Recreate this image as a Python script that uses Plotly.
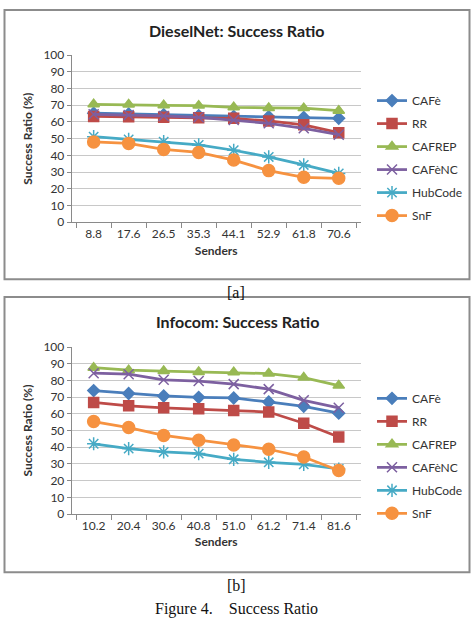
import plotly.graph_objects as go

W, H = 474, 628

series_names = ["CAFè", "RR", "CAFREP", "CAFèNC", "HubCode", "SnF"]
line_colors = ["#4A7EBB", "#BE4B48", "#98B954", "#7D60A0", "#46AAC5", "#F69240"]
symbols = ["diamond", "square", "triangle-up", "x-thin-open", "asterisk-open", "circle"]
msizes = [9, 10, 10, 10, 11, 12]

diesel_senders = ["8.8", "17.6", "26.5", "35.3", "44.1", "52.9", "61.8", "70.6"]
diesel_cafe = [65.3, 64.8, 64.4, 63.8, 63.3, 63.2, 62.7, 62.2]
diesel_rr = [63.3, 63.1, 62.8, 62.6, 62.2, 60.6, 58.3, 53.6]
diesel_cafrep = [70.6, 70.5, 70.0, 69.8, 68.8, 68.4, 68.3, 66.8]
diesel_cafenc = [64.6, 64.2, 63.6, 62.8, 61.2, 59.2, 56.2, 52.4]
diesel_hubcode = [51.2, 49.6, 48.2, 46.3, 43.1, 39.1, 34.3, 29.2]
diesel_snf = [48.1, 47.2, 43.6, 41.8, 37.2, 30.9, 26.9, 26.3]

info_senders = ["10.2", "20.4", "30.6", "40.8", "51.0", "61.2", "71.4", "81.6"]
info_cafe = [73.9, 72.2, 70.7, 69.9, 69.5, 67.1, 64.5, 60.4]
info_rr = [66.8, 64.8, 63.6, 63.0, 62.0, 61.1, 54.4, 46.2]
info_cafrep = [87.6, 86.1, 85.6, 85.1, 84.9, 84.1, 81.7, 76.9]
info_cafenc = [84.3, 83.7, 80.4, 79.6, 77.8, 74.8, 68.1, 63.6]
info_hubcode = [42.1, 39.2, 37.2, 36.2, 32.8, 31.0, 29.8, 27.0]
info_snf = [55.4, 51.8, 47.1, 44.2, 41.3, 38.8, 34.2, 26.1]

diesel = [diesel_cafe, diesel_rr, diesel_cafrep, diesel_cafenc, diesel_hubcode, diesel_snf]
info = [info_cafe, info_rr, info_cafrep, info_cafenc, info_hubcode, info_snf]

FONT = "Lato"
SERIF = "Liberation Serif"

def px_x(p):
    return p / W

def px_y(p):
    return 1 - p / H

fig = go.Figure()

for i, name in enumerate(series_names):
    fig.add_trace(go.Scatter(
        x=diesel_senders, y=diesel[i], name=name, mode="lines+markers",
        line=dict(color=line_colors[i], width=2.75),
        marker=dict(symbol=symbols[i], size=msizes[i], color=line_colors[i],
                    line=dict(color=line_colors[i], width=1.5)),
        xaxis="x", yaxis="y", legend="legend", legendgroup="a" + str(i)))
for i, name in enumerate(series_names):
    fig.add_trace(go.Scatter(
        x=info_senders, y=info[i], name=name, mode="lines+markers",
        line=dict(color=line_colors[i], width=2.75),
        marker=dict(symbol=symbols[i], size=msizes[i], color=line_colors[i],
                    line=dict(color=line_colors[i], width=1.5)),
        xaxis="x2", yaxis="y2", legend="legend2", legendgroup="b" + str(i)))

axis_common_y = dict(range=[0, 100], dtick=10, showgrid=True, gridcolor="#C8C8C8",
                     gridwidth=1, showline=True, linecolor="#8A8A8A", linewidth=1,
                     ticks="outside", ticklen=4, tickcolor="#8A8A8A",
                     tickfont=dict(family=FONT, size=12, color="#333333"),
                     zeroline=False, fixedrange=True)
axis_common_x = dict(type="category", tickson="boundaries", showgrid=False,
                     showline=True, linecolor="#8A8A8A", linewidth=1,
                     ticks="outside", ticklen=5, tickcolor="#8A8A8A",
                     tickfont=dict(family=FONT, size=12, color="#333333"),
                     fixedrange=True)

xl, xr = px_x(71.7), px_x(360.7)

fig.update_layout(
    width=W, height=H, margin=dict(l=0, r=0, t=0, b=0),
    paper_bgcolor="white", plot_bgcolor="white",
    showlegend=True,
    xaxis=dict(domain=[xl, xr], anchor="y",
               title=dict(text="<b>Senders</b>", font=dict(family=FONT, size=12, color="#333333"), standoff=6),
               **axis_common_x),
    yaxis=dict(domain=[px_y(219.5), px_y(48.3)], anchor="x",
               title=dict(text="<b>Success Ratio (%)</b>", font=dict(family=FONT, size=12, color="#333333"), standoff=8),
               **axis_common_y),
    xaxis2=dict(domain=[xl, xr], anchor="y2",
                title=dict(text="<b>Senders</b>", font=dict(family=FONT, size=12, color="#333333"), standoff=6),
                **axis_common_x),
    yaxis2=dict(domain=[px_y(518.5), px_y(347.3)], anchor="x2",
                title=dict(text="<b>Success Ratio (%)</b>", font=dict(family=FONT, size=12, color="#333333"), standoff=8),
                **axis_common_y),
    legend=dict(x=px_x(372), y=px_y(80), xanchor="left", yanchor="top",
                font=dict(family=FONT, size=12, color="#333333"),
                tracegroupgap=4, bgcolor="rgba(0,0,0,0)", itemwidth=30),
    legend2=dict(x=px_x(372), y=px_y(385), xanchor="left", yanchor="top",
                 font=dict(family=FONT, size=12, color="#333333"),
                 tracegroupgap=4, bgcolor="rgba(0,0,0,0)", itemwidth=30),
    shapes=[
        dict(type="rect", xref="paper", yref="paper", x0=px_x(4.5), x1=px_x(469.5),
             y0=px_y(278), y1=px_y(2), line=dict(color="#8C8C8C", width=2)),
        dict(type="rect", xref="paper", yref="paper", x0=px_x(4.5), x1=px_x(469.5),
             y0=px_y(578), y1=px_y(296), line=dict(color="#8C8C8C", width=2)),
    ],
    annotations=[
        dict(text="<b>DieselNet: Success Ratio</b>", x=px_x(237), y=px_y(23), xref="paper", yref="paper",
             showarrow=False, font=dict(family=FONT, size=16, color="#222222"), xanchor="center", yanchor="middle"),
        dict(text="<b>Infocom: Success Ratio</b>", x=px_x(237), y=px_y(321), xref="paper", yref="paper",
             showarrow=False, font=dict(family=FONT, size=16, color="#222222"), xanchor="center", yanchor="middle"),
        dict(text="[a]", x=px_x(236), y=px_y(291), xref="paper", yref="paper",
             showarrow=False, font=dict(family=SERIF, size=16, color="#111111"), xanchor="center", yanchor="middle"),
        dict(text="[b]", x=px_x(236), y=px_y(592), xref="paper", yref="paper",
             showarrow=False, font=dict(family=SERIF, size=16, color="#111111"), xanchor="center", yanchor="middle"),
        dict(text="Figure 4.&nbsp;&nbsp;&nbsp;&nbsp;Success Ratio", x=px_x(236), y=px_y(616), xref="paper", yref="paper",
             showarrow=False, font=dict(family=SERIF, size=16, color="#111111"), xanchor="center", yanchor="middle"),
    ],
)

fig.write_html("out.html")
